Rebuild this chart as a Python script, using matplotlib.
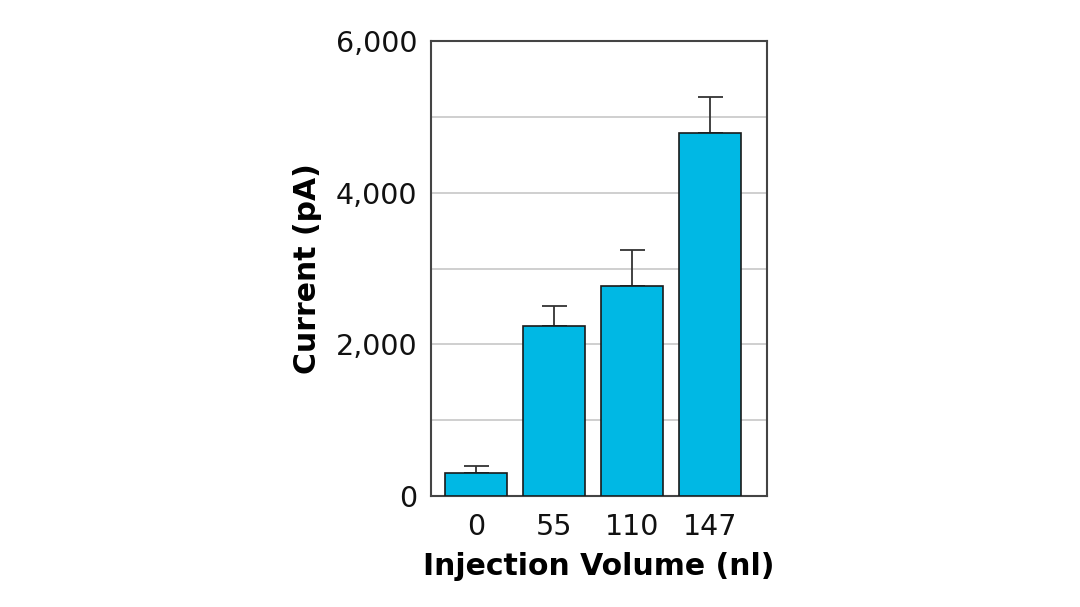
import matplotlib.pyplot as plt
import numpy as np

volumes = ["0", "55", "110", "147"]
current = [300, 2245, 2770, 4790]
error = [100, 260, 475, 475]

BAR_COLOR = "#00b8e4"

plt.rcParams['font.family'] = ['DejaVu Sans']

fig = plt.figure(figsize=(10.8, 6.07), dpi=100)
ax = fig.add_axes([0.399, 0.183, 0.311, 0.749])

x = np.arange(len(volumes))
ax.bar(x, current, width=0.79, color=BAR_COLOR, edgecolor="#1a1a1a", linewidth=1.2, zorder=3)
ax.errorbar(x, current, yerr=[np.zeros(len(error)), error], fmt="none",
            ecolor="#333333", elinewidth=1.3, capsize=9, capthick=1.3, zorder=2)

ax.set_xlim(-0.58, 3.73)
ax.set_ylim(0, 6000)
ax.set_yticks([0, 2000, 4000, 6000])
ax.set_yticklabels(["0", "2,000", "4,000", "6,000"])
ax.set_yticks(np.arange(0, 6001, 1000), minor=True)
ax.yaxis.grid(True, which="both", color="#cccccc", linewidth=1.3, zorder=0)
ax.set_axisbelow(True)
ax.set_xticks(x)
ax.set_xticklabels(volumes)
ax.tick_params(axis="both", which="both", length=0, labelsize=20.5, colors="#111111")
ax.tick_params(axis="y", pad=10)
ax.tick_params(axis="x", pad=12)

for s in ax.spines.values():
  s.set_color("#444444")
  s.set_linewidth(1.5)

ax.set_xlabel("Injection Volume (nl)", fontsize=21.5, fontweight="bold", labelpad=8)
ax.set_ylabel("Current (pA)", fontsize=21.5, fontweight="bold", labelpad=10)

fig.savefig("out.png", dpi=100)
